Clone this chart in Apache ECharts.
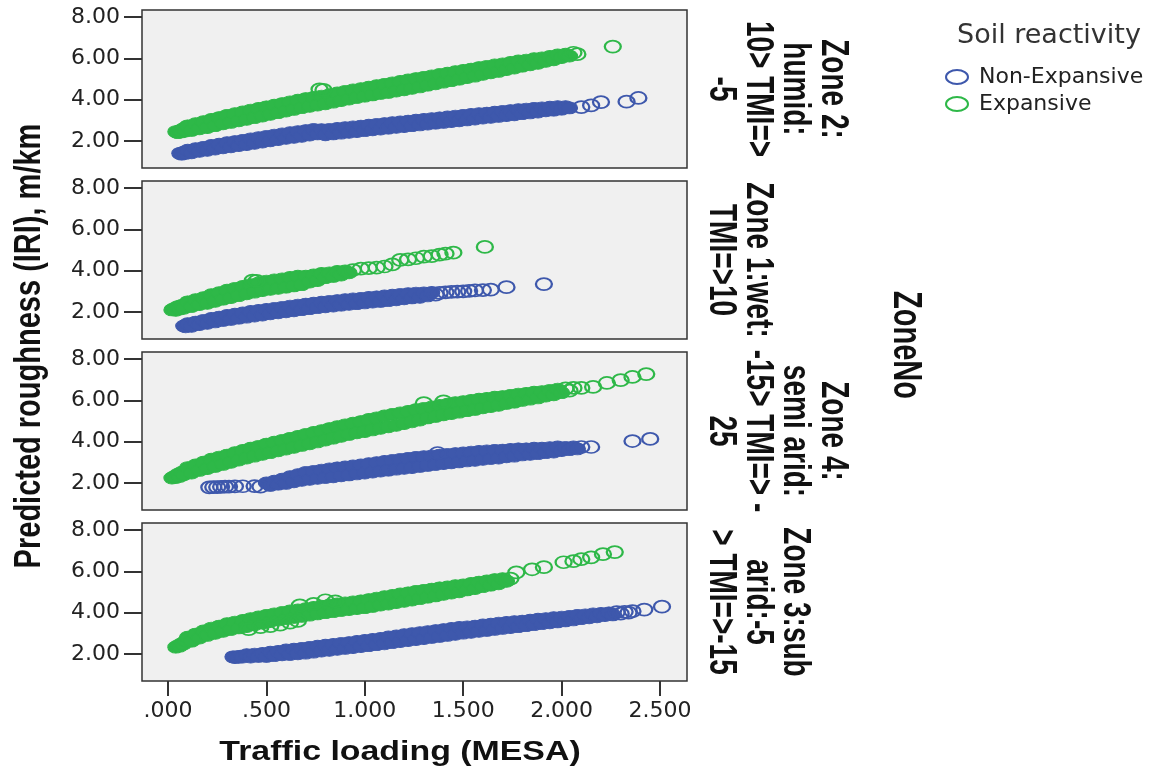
<!DOCTYPE html>
<html lang="en">
<head>
<meta charset="UTF-8">
<title>Predicted roughness vs traffic loading by climate zone</title>
<style>
    *{margin:0;padding:0;}
    body,html{width:100%;height:100%;background:#fff;}
    #main{width:1161px;height:770px;}
</style>
</head>
<body>
<div id="main"></div>
<script src="https://cdn.jsdelivr.net/npm/echarts@6/dist/echarts.min.js"></script>
<script>
// values: [traffic loading (MESA), predicted IRI (m/km)]
// "band" arrays = the densely overplotted part, "loose" arrays = circles that stand apart
var zone2NonExp = [[.06,1.4],[.07,1.36],[.08,1.46],[.09,1.4],
[.1,1.55],[.12,1.43],[.14,1.62],[.16,1.5],[.18,1.69],[.2,1.55],[.22,1.78],[.24,1.61],[.26,1.84],[.28,1.67],
[.3,1.91],[.32,1.72],[.34,1.97],[.36,1.78],[.38,2.03],[.4,1.83],[.42,2.1],[.44,1.89],[.46,2.16],[.48,1.95],
[.5,2.22],[.52,2.01],[.54,2.28],[.56,2.07],[.58,2.34],[.6,2.13],[.62,2.4],[.64,2.18],[.66,2.45],[.68,2.23],
[.7,2.5],[.72,2.29],[.74,2.56],[.76,2.34],[.78,2.54],[.8,2.3],[.82,2.56],[.84,2.34],[.86,2.6],[.88,2.38],
[.9,2.64],[.92,2.42],[.94,2.68],[.96,2.46],[.98,2.72],[1,2.5],[1.02,2.76],[1.04,2.54],[1.06,2.8],[1.08,2.58],
[1.1,2.84],[1.12,2.62],[1.14,2.88],[1.16,2.66],[1.18,2.92],[1.2,2.7],[1.22,2.96],[1.24,2.74],[1.26,3],[1.28,2.78],
[1.3,3.04],[1.32,2.82],[1.34,3.08],[1.36,2.86],[1.38,3.12],[1.4,2.9],[1.42,3.16],[1.44,2.94],[1.46,3.2],[1.48,2.98],
[1.5,3.24],[1.52,3.02],[1.54,3.28],[1.56,3.06],[1.58,3.32],[1.6,3.11],[1.62,3.35],[1.64,3.15],[1.66,3.39],[1.68,3.19],
[1.7,3.43],[1.72,3.23],[1.74,3.47],[1.76,3.27],[1.78,3.51],[1.8,3.32],[1.82,3.54],[1.84,3.36],[1.86,3.58],[1.88,3.4],
[1.9,3.6],[1.92,3.46],[1.94,3.63],[1.96,3.49],[1.98,3.66],[2,3.54],[2.02,3.66],[2.04,3.6]];
var zone2NonExpLoose = [[2.1,3.64],[2.15,3.72],[2.2,3.88],[2.33,3.9],[2.39,4.08]];

var zone2Exp = [[.04,2.45],[.05,2.4],[.06,2.5],[.07,2.44],[.08,2.6],[.09,2.48],
[.1,2.73],[.12,2.51],[.14,2.83],[.16,2.59],[.18,2.93],[.2,2.65],[.22,3.04],[.24,2.74],[.26,3.13],[.28,2.83],
[.3,3.24],[.32,2.9],[.34,3.32],[.36,2.98],[.38,3.4],[.4,3.05],[.42,3.49],[.44,3.13],[.46,3.57],[.48,3.21],
[.5,3.65],[.52,3.29],[.54,3.73],[.56,3.37],[.58,3.81],[.6,3.45],[.62,3.89],[.64,3.53],[.66,3.97],[.68,3.61],
[.7,4.05],[.72,3.68],[.74,4.11],[.76,3.74],[.78,4.17],[.8,3.8],[.82,4.24],[.84,3.88],[.86,4.32],[.88,3.96],
[.9,4.4],[.92,4.03],[.94,4.47],[.96,4.1],[.98,4.53],[1,4.17],[1.02,4.6],[1.04,4.23],[1.06,4.67],[1.08,4.3],
[1.1,4.74],[1.12,4.35],[1.14,4.81],[1.16,4.42],[1.18,4.88],[1.2,4.48],[1.22,4.95],[1.24,4.55],[1.26,5.02],[1.28,4.62],
[1.3,5.08],[1.32,4.7],[1.34,5.15],[1.36,4.77],[1.38,5.22],[1.4,4.85],[1.42,5.28],[1.44,4.92],[1.46,5.35],[1.48,4.99],
[1.5,5.41],[1.52,5.07],[1.54,5.48],[1.56,5.14],[1.58,5.55],[1.6,5.23],[1.62,5.61],[1.64,5.3],[1.66,5.68],[1.68,5.37],
[1.7,5.73],[1.72,5.46],[1.74,5.8],[1.76,5.53],[1.78,5.87],[1.8,5.62],[1.82,5.91],[1.84,5.69],[1.86,5.98],[1.88,5.76],
[1.9,6.02],[1.92,5.86],[1.94,6.09],[1.96,5.93],[1.98,6.16],[2,6.04],[2.02,6.2],[2.04,6.11]];
var zone2ExpLoose = [[.77,4.5],[.79,4.47],[2.06,6.27],[2.08,6.2],[2.26,6.57]];

var zone1NonExp = [[.08,1.32],[.09,1.28],
[.1,1.43],[.12,1.31],[.14,1.51],[.16,1.39],[.18,1.59],[.2,1.45],[.22,1.68],[.24,1.52],[.26,1.75],[.28,1.59],
[.3,1.83],[.32,1.64],[.34,1.89],[.36,1.7],[.38,1.95],[.4,1.75],[.42,2.02],[.44,1.8],[.46,2.07],[.48,1.85],
[.5,2.12],[.52,1.91],[.54,2.17],[.56,1.96],[.58,2.22],[.6,2.01],[.62,2.28],[.64,2.06],[.66,2.33],[.68,2.11],
[.7,2.38],[.72,2.16],[.74,2.42],[.76,2.21],[.78,2.47],[.8,2.25],[.82,2.51],[.84,2.29],[.86,2.55],[.88,2.33],
[.9,2.59],[.92,2.37],[.94,2.63],[.96,2.4],[.98,2.66],[1,2.44],[1.02,2.7],[1.04,2.48],[1.06,2.73],[1.08,2.51],
[1.1,2.77],[1.12,2.55],[1.14,2.81],[1.16,2.59],[1.18,2.85],[1.2,2.64],[1.22,2.88],[1.24,2.68],[1.26,2.91],[1.28,2.71],
[1.3,2.92],[1.32,2.78],[1.34,2.94]];
var zone1NonExpLoose = [[1.36,2.84],[1.38,2.92],[1.41,2.95],[1.44,2.97],[1.47,2.98],[1.5,3],[1.53,3.02],[1.56,3.04],
[1.6,3.06],[1.64,3.08],[1.72,3.2],[1.91,3.35]];

var zone1Exp = [[.02,2.1],[.03,2.16],[.04,2.08],[.05,2.26],[.06,2.14],[.07,2.32],[.08,2.18],
[.1,2.49],[.12,2.26],[.14,2.59],[.16,2.36],[.18,2.69],[.2,2.42],[.22,2.83],[.24,2.52],[.26,2.93],[.28,2.62],
[.3,3.05],[.32,2.7],[.34,3.14],[.36,2.79],[.38,3.23],[.4,2.88],[.42,3.32],[.44,2.96],[.46,3.4],[.48,3.04],
[.5,3.49],[.52,3.1],[.54,3.55],[.56,3.15],[.58,3.6],[.6,3.2],[.62,3.67],[.64,3.26],[.66,3.73],[.68,3.32],
[.7,3.73],[.72,3.45],[.74,3.79],[.76,3.52],[.78,3.86],[.8,3.66],[.82,3.89],[.84,3.72],[.86,3.96],[.88,3.79],
[.9,3.98],[.92,3.9]];
var zone1ExpLoose = [[.43,3.52],[.45,3.5],[.94,4.03],
[.98,4.1],[1.02,4.12],[1.06,4.15],[1.1,4.2],[1.14,4.3],[1.18,4.52],[1.22,4.55],[1.26,4.6],[1.3,4.68],[1.34,4.7],
[1.38,4.78],[1.41,4.82],[1.45,4.87],[1.61,5.15]];

var zone4NonExp = [[.5,2],[.52,1.88],[.54,2.08],[.56,1.94],[.58,2.18],[.6,1.98],[.62,2.3],[.64,2.06],[.66,2.4],[.68,2.13],
[.7,2.51],[.72,2.18],[.74,2.56],[.76,2.23],[.78,2.62],[.8,2.26],[.82,2.68],[.84,2.3],[.86,2.73],[.88,2.35],
[.9,2.77],[.92,2.39],[.94,2.82],[.96,2.44],[.98,2.87],[1,2.48],[1.02,2.93],[1.04,2.53],[1.06,2.98],[1.08,2.58],
[1.1,3.04],[1.12,2.62],[1.14,3.09],[1.16,2.67],[1.18,3.14],[1.2,2.71],[1.22,3.19],[1.24,2.75],[1.26,3.24],[1.28,2.8],
[1.3,3.27],[1.32,2.85],[1.34,3.31],[1.36,2.89],[1.38,3.35],[1.4,2.94],[1.42,3.38],[1.44,2.98],[1.46,3.42],[1.48,3.02],
[1.5,3.45],[1.52,3.07],[1.54,3.49],[1.56,3.1],[1.58,3.52],[1.6,3.15],[1.62,3.55],[1.64,3.18],[1.66,3.58],[1.68,3.21],
[1.7,3.59],[1.72,3.27],[1.74,3.62],[1.76,3.3],[1.78,3.65],[1.8,3.36],[1.82,3.65],[1.84,3.39],[1.86,3.68],[1.88,3.42],
[1.9,3.68],[1.92,3.47],[1.94,3.71],[1.96,3.5],[1.98,3.74],[2,3.57],[2.02,3.72],[2.04,3.61],[2.06,3.74],[2.08,3.65]];
var zone4NonExpLoose = [[.21,1.79],[.23,1.8],[.25,1.8],[.27,1.81],[.29,1.82],[.31,1.82],[.34,1.83],[.38,1.84],
[.44,1.85],[.47,1.82],[1.37,3.45],[2.1,3.74],[2.15,3.74],[2.36,4.03],[2.45,4.13]];

var zone4Exp = [[.02,2.24],[.03,2.3],[.04,2.26],[.05,2.42],[.06,2.32],[.07,2.52],[.08,2.4],
[.1,2.74],[.12,2.48],[.14,2.87],[.16,2.61],[.18,3],[.2,2.7],[.22,3.15],[.24,2.8],[.26,3.25],[.28,2.9],
[.3,3.35],[.32,3],[.34,3.46],[.36,3.11],[.38,3.57],[.4,3.21],[.42,3.68],[.44,3.3],[.46,3.77],[.48,3.39],
[.5,3.88],[.52,3.47],[.54,3.97],[.56,3.56],[.58,4.06],[.6,3.64],[.62,4.16],[.64,3.73],[.66,4.25],[.68,3.82],
[.7,4.35],[.72,3.9],[.74,4.44],[.76,3.99],[.78,4.53],[.8,4.08],[.82,4.63],[.84,4.17],[.86,4.72],[.88,4.26],
[.9,4.81],[.92,4.35],[.94,4.89],[.96,4.43],[.98,4.97],[1,4.49],[1.02,5.07],[1.04,4.57],[1.06,5.15],[1.08,4.65],
[1.1,5.24],[1.12,4.72],[1.14,5.32],[1.16,4.79],[1.18,5.39],[1.2,4.88],[1.22,5.46],[1.24,4.96],[1.26,5.55],[1.28,5.05],
[1.3,5.61],[1.32,5.15],[1.34,5.68],[1.36,5.22],[1.38,5.75],[1.4,5.3],[1.42,5.81],[1.44,5.36],[1.46,5.88],[1.48,5.43],
[1.5,5.93],[1.52,5.5],[1.54,5.99],[1.56,5.56],[1.58,6.05],[1.6,5.64],[1.62,6.09],[1.64,5.7],[1.66,6.15],[1.68,5.76],
[1.7,6.18],[1.72,5.85],[1.74,6.24],[1.76,5.91],[1.78,6.3],[1.8,6],[1.82,6.33],[1.84,6.06],[1.86,6.39],[1.88,6.12],
[1.9,6.42],[1.92,6.21],[1.94,6.48],[1.96,6.27],[1.98,6.54],[2,6.37]];
var zone4ExpLoose = [[1.3,5.87],[1.4,5.95],[2.02,6.58],[2.04,6.47],[2.06,6.6],[2.1,6.6],[2.16,6.65],[2.23,6.84],
[2.3,6.98],[2.36,7.13],[2.43,7.27]];

var zone3NonExp = [[.33,1.86],[.34,1.83],[.35,1.87],[.36,1.84],[.37,1.89],[.38,1.85],
[.4,1.96],[.42,1.85],[.44,1.99],[.46,1.88],[.48,2.02],[.5,1.88],[.52,2.08],[.54,1.92],[.56,2.12],[.58,1.96],
[.6,2.19],[.62,1.97],[.64,2.23],[.66,2.01],[.68,2.27],[.7,2.04],[.72,2.32],[.74,2.09],[.76,2.37],[.78,2.14],
[.8,2.42],[.82,2.18],[.84,2.46],[.86,2.23],[.88,2.51],[.9,2.27],[.92,2.55],[.94,2.31],[.96,2.6],[.98,2.36],
[1,2.65],[1.02,2.4],[1.04,2.7],[1.06,2.45],[1.08,2.75],[1.1,2.49],[1.12,2.82],[1.14,2.55],[1.16,2.87],[1.18,2.6],
[1.2,2.93],[1.22,2.65],[1.24,2.98],[1.26,2.7],[1.28,3.03],[1.3,2.75],[1.32,3.08],[1.34,2.8],[1.36,3.13],[1.38,2.85],
[1.4,3.18],[1.42,2.9],[1.44,3.23],[1.46,2.95],[1.48,3.28],[1.5,3.01],[1.52,3.31],[1.54,3.05],[1.56,3.35],[1.58,3.1],
[1.6,3.4],[1.62,3.14],[1.64,3.44],[1.66,3.19],[1.68,3.49],[1.7,3.24],[1.72,3.52],[1.74,3.28],[1.76,3.56],[1.78,3.32],
[1.8,3.59],[1.82,3.37],[1.84,3.63],[1.86,3.42],[1.88,3.68],[1.9,3.47],[1.92,3.71],[1.94,3.51],[1.96,3.75],[1.98,3.55],
[2,3.78],[2.02,3.6],[2.04,3.82],[2.06,3.65],[2.08,3.87],[2.1,3.71],[2.12,3.89],[2.14,3.75],[2.16,3.94],[2.18,3.8],
[2.2,3.96],[2.22,3.86],[2.24,3.99],[2.26,3.89]];
var zone3NonExpLoose = [[2.28,4.03],[2.3,3.95],[2.32,4.04],[2.34,4],[2.36,4.07],[2.42,4.15],[2.51,4.29]];

var zone3Exp = [[.04,2.33],[.05,2.4],[.06,2.38],[.07,2.5],[.08,2.48],[.09,2.64],
[.1,2.81],[.12,2.62],[.14,2.96],[.16,2.77],[.18,3.11],[.2,2.9],[.22,3.25],[.24,3],[.26,3.35],[.28,3.1],
[.3,3.46],[.32,3.18],[.34,3.54],[.36,3.26],[.38,3.62],[.4,3.33],[.42,3.71],[.44,3.41],[.46,3.79],[.48,3.49],
[.5,3.87],[.52,3.57],[.54,3.94],[.56,3.64],[.58,4.01],[.6,3.71],[.62,4.08],[.64,3.77],[.66,4.13],[.68,3.82],
[.7,4.19],[.72,3.88],[.74,4.25],[.76,3.94],[.78,4.31],[.8,4],[.82,4.37],[.84,4.05],[.86,4.42],[.88,4.1],
[.9,4.47],[.92,4.15],[.94,4.52],[.96,4.2],[.98,4.57],[1,4.24],[1.02,4.63],[1.04,4.3],[1.06,4.7],[1.08,4.37],
[1.1,4.77],[1.12,4.42],[1.14,4.83],[1.16,4.49],[1.18,4.9],[1.2,4.55],[1.22,4.96],[1.24,4.61],[1.26,5.03],[1.28,4.68],
[1.3,5.08],[1.32,4.75],[1.34,5.14],[1.36,4.81],[1.38,5.2],[1.4,4.89],[1.42,5.24],[1.44,4.95],[1.46,5.3],[1.48,5.01],
[1.5,5.34],[1.52,5.1],[1.54,5.41],[1.56,5.17],[1.58,5.48],[1.6,5.26],[1.62,5.53],[1.64,5.33],[1.66,5.6],[1.68,5.4],
[1.7,5.64],[1.72,5.52]];
var zone3ExpLoose = [[.41,3.2],[.47,3.3],[.52,3.35],[.57,3.42],[.62,3.52],[.66,3.6],[.67,4.35],[.74,4.42],[.8,4.6],[.85,4.55],
[1.74,5.65],[1.77,5.95],[1.85,6.1],[1.91,6.2],[2.01,6.44],[2.06,6.49],[2.1,6.59],[2.15,6.68],[2.21,6.83],[2.27,6.93]];

// panels from top to bottom
var zoneLabels = ['Zone 2:\nhumid:\n10> TMI=>\n-5', 'Zone 1:wet:\nTMI=>10', 'Zone 4:\nsemi arid:\n-15> TMI=> -\n25', 'Zone 3:sub\narid:-5\n> TMI=>-15'];
var nonExpBand = [zone2NonExp, zone1NonExp, zone4NonExp, zone3NonExp];
var nonExpLoose = [zone2NonExpLoose, zone1NonExpLoose, zone4NonExpLoose, zone3NonExpLoose];
var expBand = [zone2Exp, zone1Exp, zone4Exp, zone3Exp];
var expLoose = [zone2ExpLoose, zone1ExpLoose, zone4ExpLoose, zone3ExpLoose];
var groupNames = ['Non-Expansive', 'Expansive'];
var yTicks = [2, 4, 6, 8];
var xTicks = [0, 0.5, 1, 1.5, 2, 2.5];

var blue = '#3e58ac', green = '#2eb848';
var ring = 'path://M0,6a8,6 0 1,0 16,0a8,6 0 1,0 -16,0z';
var legendRing = 'path://M0,7a11,7 0 1,0 22,0a11,7 0 1,0 -22,0z';
var panelTops = [10, 181, 352, 523];
var panelH = 158;

var myChart = echarts.init(document.getElementById('main'));

function scatter(name, i, data, color, packed) {
    return {
        type: 'scatter', name: name, xAxisIndex: i, yAxisIndex: i, data: data,
        symbol: ring, symbolSize: [16, 12], silent: true,
        // where thousands of rings pile up the band reads as solid colour
        itemStyle: packed ? {color: color, borderColor: color, borderWidth: 1, opacity: 1}
                          : {color: 'rgba(0,0,0,0)', borderColor: color, borderWidth: 2, opacity: 1},
        emphasis: {disabled: true}
    };
}

var grids = [], xAxes = [], yAxes = [], series = [], graphics = [];
panelTops.forEach(function (top, i) {
    var last = i === panelTops.length - 1;
    grids.push({left: 142, top: top, width: 545, height: panelH, show: true,
        backgroundColor: '#f0f0f0', borderColor: '#333', borderWidth: 1.5});
    xAxes.push({
        gridIndex: i, type: 'value', min: -0.132, max: 2.637,
        splitLine: {show: false}, axisLine: {show: false, onZero: false},
        axisTick: {show: last, length: 15, customValues: xTicks, lineStyle: {color: '#333', width: 2}},
        axisLabel: {show: last, customValues: xTicks, margin: 19, color: '#222',
            fontFamily: 'DejaVu Sans', fontSize: 22,
            formatter: function (v) {
                var s = v.toFixed(3);
                return s.charAt(0) === '0' ? s.slice(1) : s;
            }}
    });
    yAxes.push({
        gridIndex: i, type: 'value', min: 0.69, max: 8.34,
        splitLine: {show: false}, axisLine: {show: false, onZero: false},
        axisTick: {length: 18, customValues: yTicks, lineStyle: {color: '#333', width: 2}},
        axisLabel: {customValues: yTicks, margin: 22, color: '#222',
            fontFamily: 'DejaVu Sans', fontSize: 22,
            formatter: function (v) { return v.toFixed(2); }}
    });
    series.push(scatter(groupNames[0], i, nonExpBand[i], blue, true));
    series.push(scatter(groupNames[0], i, nonExpLoose[i], blue, false));
    series.push(scatter(groupNames[1], i, expBand[i], green, true));
    series.push(scatter(groupNames[1], i, expLoose[i], green, false));
    // facet label, rotated to read downwards
    graphics.push({
        type: 'group', x: 702, y: top + panelH / 2, scaleX: 1.38,
        children: [{type: 'text', rotation: -Math.PI / 2,
            style: {text: zoneLabels[i], font: 'bold 28px "Liberation Sans", Arial, sans-serif',
                fill: '#111', align: 'center', verticalAlign: 'bottom', lineHeight: 27}}]
    });
});

graphics.push({
    type: 'group', x: 30, y: 346, scaleX: 1.25,
    children: [{type: 'text', rotation: Math.PI / 2,
        style: {text: 'Predicted roughness (IRI), m/km', font: 'bold 29px "Liberation Sans", Arial, sans-serif',
            fill: '#111', align: 'center', verticalAlign: 'middle'}}]
});
graphics.push({
    type: 'group', x: 400, y: 752, scaleX: 1.21,
    children: [{type: 'text',
        style: {text: 'Traffic loading (MESA)', font: 'bold 28px "Liberation Sans", Arial, sans-serif',
            fill: '#111', align: 'center', verticalAlign: 'middle'}}]
});
graphics.push({
    type: 'group', x: 905, y: 345, scaleX: 1.42,
    children: [{type: 'text', rotation: -Math.PI / 2,
        style: {text: 'ZoneNo', font: 'bold 29px "Liberation Sans", Arial, sans-serif',
            fill: '#111', align: 'center', verticalAlign: 'middle'}}]
});

var option = {
    animation: false,
    title: {
        text: 'Soil reactivity', left: 957, top: 22, padding: 0,
        textStyle: {fontFamily: 'DejaVu Sans', fontSize: 27, fontWeight: 'normal', color: '#333'}
    },
    legend: {
        orient: 'vertical', left: 945, top: 66, padding: 0,
        itemWidth: 22, itemHeight: 15, itemGap: 5, selectedMode: false,
        textStyle: {fontFamily: 'DejaVu Sans', fontSize: 22, color: '#222', padding: [0, 0, 0, 6]},
        data: [
            {name: groupNames[0], icon: legendRing, itemStyle: {color: 'rgba(0,0,0,0)', borderColor: blue, borderWidth: 2, opacity: 1}},
            {name: groupNames[1], icon: legendRing, itemStyle: {color: 'rgba(0,0,0,0)', borderColor: green, borderWidth: 2, opacity: 1}}
        ]
    },
    grid: grids,
    xAxis: xAxes,
    yAxis: yAxes,
    series: series,
    graphic: graphics
};
myChart.setOption(option);
</script>
</body>
</html>
